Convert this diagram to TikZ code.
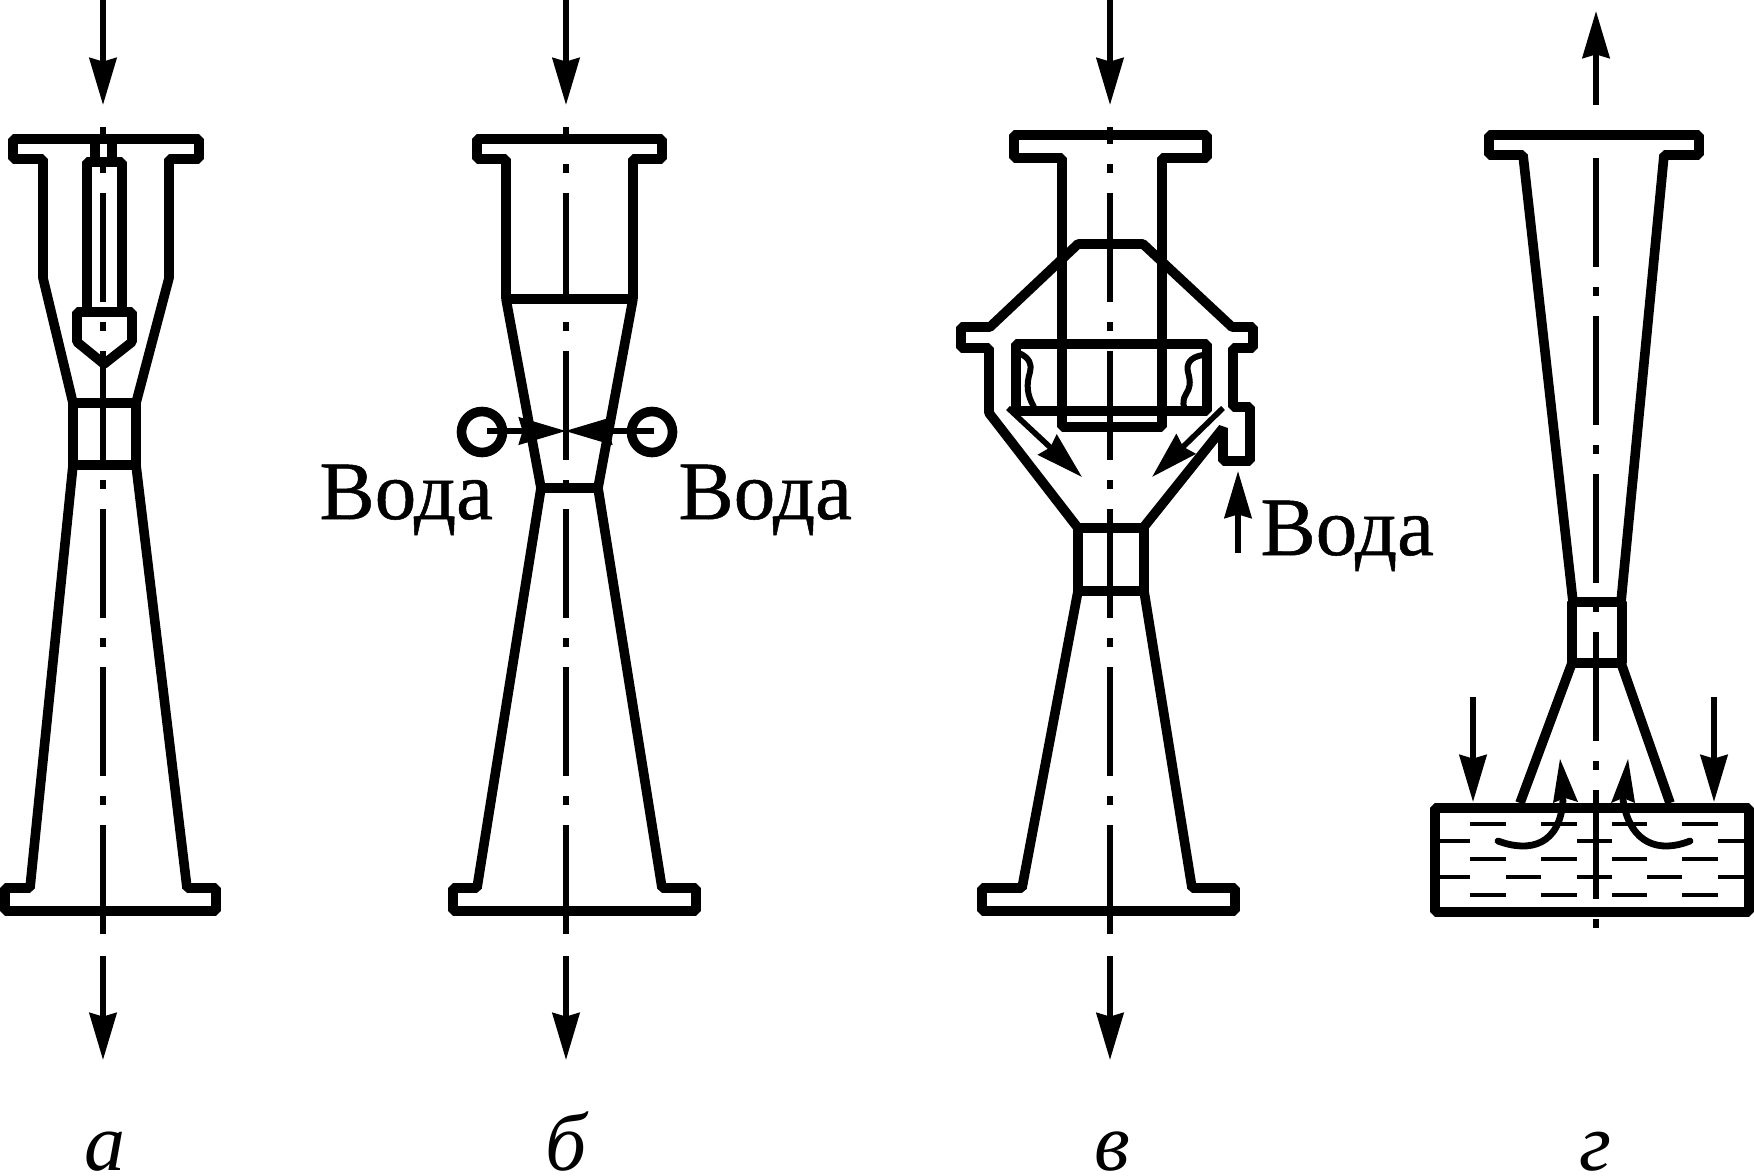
\documentclass[tikz,border=0pt]{standalone}
\usepackage{fontspec}
\setmainfont{Liberation Serif}
\usetikzlibrary{arrows.meta}
\tikzset{
  wall/.style={line width=4.8pt,line join=bevel},
  rim/.style={line width=5.2pt,line join=bevel},
  axisline/.style={line width=2.8pt,dash pattern=on 54.5pt off 10pt on 4.5pt off 10pt},
  flow/.style={line width=2.8pt,-{Stealth[length=23.5pt,width=13.5pt,inset=1.8pt]}},
  swirl/.style={line width=3.4pt,line cap=round},
  ripple/.style={line width=1.9pt},
  wavy/.style={line width=3pt},
  txt/.style={font=\fontsize{41.5}{41.5}\selectfont\addfontfeature{FakeBold=0.6},inner sep=0pt,anchor=base west},
  sub/.style={font=\fontsize{41}{41}\selectfont\itshape,inner sep=0pt,anchor=base},
}
\begin{document}
\begin{tikzpicture}[x=0.5pt,y=-0.5pt]
\useasboundingbox (0,0) rectangle (1754,1176);
\fill[white] (0,0) rectangle (1754,1176);

% ---------- a ----------
\draw[axisline,dash phase=46pt] (103,127) -- (103,935);
\draw[flow] (103,0) -- (103,105);
\draw[flow] (103,956) -- (103,1060);
\draw[wall] (73,403) -- (43,278) -- (43,159) -- (13,159) -- (13,139) -- (199,139) -- (199,159) -- (169,159) -- (169,278) -- (136,403);
\draw[wall] (73,403) rectangle (136,465);
\draw[wall] (73,465) -- (30,888) -- (5,888) -- (5,911) -- (216,911) -- (216,888) -- (187,888) -- (136,465);
\draw[wall] (95,139) -- (95,162);
\draw[wall] (112,139) -- (112,162);
\draw[wall] (87,312) -- (87,162) -- (122,162) -- (122,312);
\draw[wall] (77,312) -- (132,312) -- (132,342) -- (104,364) -- (77,342) -- cycle;
\node[sub] (la) at (105,1170) {а};

% ---------- b ----------
\draw[axisline,dash phase=46pt] (566,127) -- (566,935);
\draw[flow] (566,0) -- (566,105);
\draw[flow] (566,956) -- (566,1060);
\draw[wall] (506,299) -- (506,159) -- (477,159) -- (477,139) -- (662,139) -- (662,159) -- (633,159) -- (633,299) -- cycle;
\draw[wall] (506,299) -- (541,488) -- (598,488) -- (633,299);
\draw[wall] (541,488) -- (477,888) -- (453,888) -- (453,911) -- (696,911) -- (696,888) -- (662,888) -- (598,488);
\draw[wall] (482,432) circle[radius=20.5];
\draw[wall] (652,432) circle[radius=20.5];
\draw[flow] (487,431) -- (566,431);
\draw[flow] (654,431) -- (565,431);
\node[txt] (w1) at (319,519) {Вода};
\node[txt] (w2) at (678,519) {Вода};
\node[sub] (lb) at (566,1170) {б};

% ---------- v ----------
\draw[axisline,dash phase=46pt] (1110,127) -- (1110,935);
\draw[flow] (1110,0) -- (1110,105);
\draw[flow] (1110,956) -- (1110,1060);
\draw[wall] (1062,427) -- (1062,158) -- (1014,158) -- (1014,135) -- (1207,135) -- (1207,158) -- (1162,158) -- (1162,427) -- cycle;
\draw[wall] (1078,528) -- (989,413) -- (989,348) -- (961,348) -- (961,327) -- (990,327) -- (1078,244) -- (1143,244) -- (1232,327) -- (1253,327) -- (1253,348) -- (1233,348) -- (1233,407) -- (1250,407) -- (1250,461) -- (1223,461) -- (1223,428) -- (1143,528);
\draw[wall] (1016,344) rectangle (1207,411);
\draw[wall] (1078,528) rectangle (1144,591);
\draw[wall] (1078,591) -- (1022,888) -- (982,888) -- (982,911) -- (1235,911) -- (1235,888) -- (1192,888) -- (1144,591);
\draw[wavy] (1019,353) .. controls (1030,358) and (1032,365) .. (1030,372) .. controls (1026,385) and (1027,395) .. (1034,407);
\draw[wavy] (1203,355) .. controls (1190,357) and (1186,364) .. (1188,372) .. controls (1191,383) and (1190,388) .. (1186,394) .. controls (1183,399) and (1183,403) .. (1184,407);
\draw[flow] (1008,408) -- (1082,477);
\draw[flow] (1223,408) -- (1152,477);
\draw[flow] (1238,553) -- (1238,471);
\node[txt] (w3) at (1260,555) {Вода};
\node[sub] (lv) at (1112,1170) {в};

% ---------- g ----------
\draw[axisline] (1596,158) -- (1596,929);
\draw[flow] (1596,105) -- (1596,11);
\draw[flow] (1473,697) -- (1473,802);
\draw[flow] (1714,697) -- (1714,802);
\draw[wall] (1573,602) -- (1523,155) -- (1489,155) -- (1489,135) -- (1699,135) -- (1699,155) -- (1664,155) -- (1621,602);
\draw[wall] (1572,602) rectangle (1622,663);
\draw[wall] (1572,663) -- (1520,803);
\draw[wall] (1621,663) -- (1670,803);
\draw[rim] (1435,808) rectangle (1749,912);
\foreach \a/\b in {1470/1506,1541/1577,1612/1647,1682/1718}{
  \draw[ripple] (\a,824) -- (\b,824);
  \draw[ripple] (\a,859) -- (\b,859);
  \draw[ripple] (\a,895) -- (\b,895);
}
\foreach \a/\b in {1440/1470,1577/1612,1718/1745}{
  \draw[ripple] (\a,841) -- (\b,841);
}
\foreach \a/\b in {1440/1470,1506/1541,1577/1612,1647/1682,1718/1745}{
  \draw[ripple] (\a,877) -- (\b,877);
}
\draw[swirl] (1498,841) .. controls (1530,853) and (1560,845) .. (1563,800);
\draw[swirl] (1690,841) .. controls (1660,853) and (1630,845) .. (1623,800);
\fill (1560,759) -- (1553,803) -- (1565,798) -- (1578,802) -- cycle;
\fill (1628,759) -- (1611,803) -- (1623,798) -- (1635,803) -- cycle;
\node[sub] (lg) at (1595,1170) {г};
\end{tikzpicture}
\end{document}
